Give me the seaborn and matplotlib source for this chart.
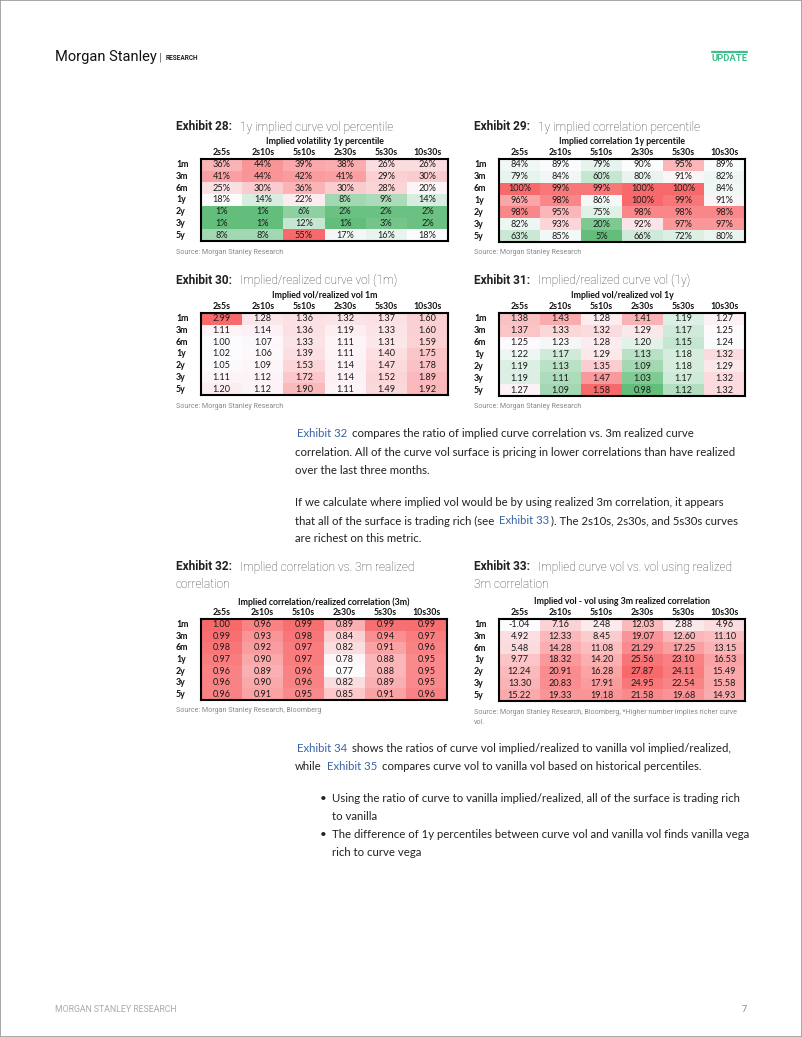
import numpy as np
import pandas as pd
import matplotlib
matplotlib.use("Agg")
import matplotlib.pyplot as plt
import seaborn as sns
from matplotlib.colors import LinearSegmentedColormap, TwoSlopeNorm, Normalize
from matplotlib.patches import Rectangle
from matplotlib.lines import Line2D

# ---------------- data ----------------
tenors = ["1m", "3m", "6m", "1y", "2y", "3y", "5y"]
curves = ["2s5s", "2s10s", "5s10s", "2s30s", "5s30s", "10s30s"]

ex28_vol_pct = [
    [36, 44, 39, 38, 26, 26],
    [41, 44, 42, 41, 29, 30],
    [25, 30, 36, 30, 28, 20],
    [18, 14, 22, 8, 9, 14],
    [1, 1, 6, 2, 2, 2],
    [1, 1, 12, 1, 3, 2],
    [8, 8, 55, 17, 16, 18],
]
ex29_corr_pct = [
    [84, 89, 79, 90, 95, 89],
    [79, 84, 60, 80, 91, 82],
    [100, 99, 99, 100, 100, 84],
    [96, 98, 86, 100, 99, 91],
    [98, 95, 75, 98, 98, 98],
    [82, 93, 20, 92, 97, 97],
    [63, 85, 5, 66, 72, 80],
]
ex30_ratio_1m = [
    [2.99, 1.28, 1.36, 1.32, 1.37, 1.60],
    [1.11, 1.14, 1.36, 1.19, 1.33, 1.60],
    [1.00, 1.07, 1.33, 1.11, 1.31, 1.59],
    [1.02, 1.06, 1.39, 1.11, 1.40, 1.75],
    [1.05, 1.09, 1.53, 1.14, 1.47, 1.78],
    [1.11, 1.12, 1.72, 1.14, 1.52, 1.89],
    [1.20, 1.12, 1.90, 1.11, 1.49, 1.92],
]
ex31_ratio_1y = [
    [1.38, 1.43, 1.28, 1.41, 1.19, 1.27],
    [1.37, 1.33, 1.32, 1.29, 1.17, 1.25],
    [1.25, 1.23, 1.28, 1.20, 1.15, 1.24],
    [1.22, 1.17, 1.29, 1.13, 1.18, 1.32],
    [1.19, 1.13, 1.35, 1.09, 1.18, 1.29],
    [1.19, 1.11, 1.47, 1.03, 1.17, 1.32],
    [1.27, 1.09, 1.58, 0.98, 1.12, 1.32],
]
ex32_corr_ratio = [
    [1.00, 0.96, 0.99, 0.89, 0.99, 0.99],
    [0.99, 0.93, 0.98, 0.84, 0.94, 0.97],
    [0.98, 0.92, 0.97, 0.82, 0.91, 0.96],
    [0.97, 0.90, 0.97, 0.78, 0.88, 0.95],
    [0.96, 0.89, 0.96, 0.77, 0.88, 0.95],
    [0.96, 0.90, 0.96, 0.82, 0.89, 0.95],
    [0.96, 0.91, 0.95, 0.85, 0.91, 0.96],
]
ex33_vol_diff = [
    [-1.04, 7.16, 2.48, 12.03, 2.88, 4.96],
    [4.92, 12.33, 8.45, 19.07, 12.60, 11.10],
    [5.48, 14.28, 11.08, 21.29, 17.25, 13.15],
    [9.77, 18.32, 14.20, 25.56, 23.10, 16.53],
    [12.24, 20.91, 16.28, 27.87, 24.11, 15.49],
    [13.30, 20.83, 17.91, 24.95, 22.54, 15.58],
    [15.22, 19.33, 19.18, 21.58, 19.68, 14.93],
]

# ---------------- figure ----------------
W, H = 802, 1037
sns.set_theme(style="white")
plt.rcParams["font.family"] = ["Lato", "DejaVu Sans"]
fig = plt.figure(figsize=(W / 100, H / 100), dpi=100)
fig.patch.set_facecolor("white")
renderer = fig.canvas.get_renderer()


def fx(x):
    return x / W


def fy(y):
    return 1 - y / H


def ax_at(x0, y0, x1, y1):
    return fig.add_axes([fx(x0), fy(y1), (x1 - x0) / W, (y1 - y0) / H])


GREEN, WHITE, RED = "#63BE7B", "#FCFCFF", "#F8696B"
cmap3 = LinearSegmentedColormap.from_list("gwr", [GREEN, WHITE, RED])
cmap2 = LinearSegmentedColormap.from_list("wr", [WHITE, RED])

TAB_FONT = "Lato"


def draw_table(values, box, header, fmt, three):
    df = pd.DataFrame(values, index=tenors, columns=curves)
    v = df.values.astype(float)
    if three:
        norm = TwoSlopeNorm(vcenter=float(np.median(v)), vmin=v.min(), vmax=v.max())
        cmap = cmap3
    else:
        norm = Normalize(v.min(), v.max())
        cmap = cmap2
    annot = np.array([[fmt.format(z) for z in row] for row in values])
    ax = ax_at(*box)
    sns.heatmap(df, ax=ax, cmap=cmap, norm=norm, annot=annot, fmt="", cbar=False,
                linewidths=0, xticklabels=curves, yticklabels=tenors,
                annot_kws=dict(fontsize=6.6, color="#1a1a1a", family=TAB_FONT))
    ax.xaxis.tick_top()
    ax.set_xlabel("")
    ax.set_ylabel("")
    for lab in ax.get_xticklabels():
        lab.set_fontsize(6.3)
        lab.set_fontweight("bold")
        lab.set_family(TAB_FONT)
        lab.set_color("#111111")
        lab.set_rotation(0)
    for lab in ax.get_yticklabels():
        lab.set_fontsize(6.3)
        lab.set_fontweight("bold")
        lab.set_family(TAB_FONT)
        lab.set_color("#111111")
        lab.set_rotation(0)
        lab.set_ha("left")
        lab.set_va("center")
    ax.tick_params(axis="x", length=0, pad=1.5)
    ax.tick_params(axis="y", length=0, pad=18)
    for s in ax.spines.values():
        s.set_visible(True)
        s.set_color("black")
        s.set_linewidth(1.5)
    x0, y0, x1, y1 = box
    fig.text(fx((x0 + x1) / 2), fy(y0 - 17), header, ha="center", va="center",
             fontsize=6.3, fontweight="bold", family=TAB_FONT, color="#111111")
    return ax


def title(x, y, num, lines):
    t = fig.text(fx(x), fy(y), f"Exhibit {num}:", ha="left", va="center",
                 fontsize=8.6, fontweight="bold", family="Roboto", color="#222222")
    w = t.get_window_extent(renderer).width
    for i, ln in enumerate(lines):
        xx = x + w + 8 if i == 0 else x
        fig.text(fx(xx), fy(y + 18 * i), ln, ha="left", va="center",
                 fontsize=8.6, fontweight="light", family="Roboto", color="#3a3a3a")


def source(x, y, txt):
    fig.text(fx(x), fy(y), txt, ha="left", va="center", fontsize=5.15,
             family="Roboto", color="#888888")


# Exhibit 28
title(176, 127, 28, ["1y implied curve vol percentile"])
draw_table(ex28_vol_pct, (201, 159, 448, 241), "Implied volatility 1y percentile", "{}%", True)
source(176, 253, "Source: Morgan Stanley Research")
# Exhibit 29
title(474, 127, 29, ["1y implied correlation percentile"])
draw_table(ex29_corr_pct, (499, 159, 745, 242), "Implied correlation 1y percentile", "{}%", True)
source(474, 253, "Source: Morgan Stanley Research")
# Exhibit 30
title(176, 280, 30, ["Implied/realized curve vol (1m)"])
draw_table(ex30_ratio_1m, (201, 313, 448, 395), "Implied vol/realized vol 1m", "{:.2f}", False)
source(176, 407, "Source: Morgan Stanley Research")
# Exhibit 31
title(474, 280, 31, ["Implied/realized curve vol (1y)"])
draw_table(ex31_ratio_1y, (499, 313, 745, 396), "Implied vol/realized vol 1y", "{:.2f}", True)
source(474, 407, "Source: Morgan Stanley Research")
# Exhibit 32
title(176, 567, 32, ["Implied correlation vs. 3m realized", "correlation"])
draw_table(ex32_corr_ratio, (201, 619, 447, 700), "Implied correlation/realized correlation (3m)", "{:.2f}", False)
source(176, 711, "Source: Morgan Stanley Research, Bloomberg")
# Exhibit 33
title(474, 567, 33, ["Implied curve vol vs. vol using realized", "3m correlation"])
draw_table(ex33_vol_diff, (499, 619, 745, 701), "Implied vol - vol using 3m realized correlation", "{:.2f}", False)
source(474, 712, "Source: Morgan Stanley Research, Bloomberg, *Higher number implies richer curve")
source(474, 722, "vol.")

# ---------------- body text ----------------
BODY_FONT = "Lato"
DARK, BLUE = "#222222", "#3A63A8"
probe = fig.text(0, 0, "correlation. All of the curve vol surface is pricing in lower correlations than have realized",
                 fontsize=10, family=BODY_FONT)
body_size = 10 * 442 / probe.get_window_extent(renderer).width
probe.remove()
sp = body_size * 100 / 72 * 0.25


def put(x, y, txt, col=DARK):
    t = fig.text(fx(x), fy(y), txt, ha="left", va="center", fontsize=body_size,
                 family=BODY_FONT, color=col)
    return x + t.get_window_extent(renderer).width


def seq(x, y, parts):
    for txt, col, gap in parts:
        x = put(x, y, txt, col) + gap * sp


seq(297, 434, [("Exhibit 32", BLUE, 1.6), ("compares the ratio of implied curve correlation vs. 3m realized curve", DARK, 0)])
put(295, 452, "correlation. All of the curve vol surface is pricing in lower correlations than have realized")
put(295, 470, "over the last three months.")
put(295, 503, "If we calculate where implied vol would be by using realized 3m correlation, it appears")
seq(295, 521, [("that all of the surface is trading rich (see", DARK, 1.6), ("Exhibit 33", BLUE, 0.8),
               ("). The 2s10s, 2s30s, and 5s30s curves", DARK, 0)])
put(295, 539, "are richest on this metric.")
seq(297, 748, [("Exhibit 34", BLUE, 1.6),
               ("shows the ratios of curve vol implied/realized to vanilla vol implied/realized,", DARK, 0)])
seq(295, 767, [("while", DARK, 2.0), ("Exhibit 35", BLUE, 1.6),
               ("compares curve vol to vanilla vol based on historical percentiles.", DARK, 0)])

for yy, txt, bullet in [
    (798, "Using the ratio of curve to vanilla implied/realized, all of the surface is trading rich", True),
    (817, "to vanilla", False),
    (835, "The difference of 1y percentiles between curve vol and vanilla vol finds vanilla vega", True),
    (853, "rich to curve vega", False),
]:
    if bullet:
        put(320, yy, "\u2022")
    put(332, yy, txt)

# ---------------- header / footer ----------------
fig.text(fx(55), fy(57), "Morgan Stanley", ha="left", va="center", fontsize=10.5,
         family="Roboto", color="#111111")
fig.text(fx(159), fy(57), "|", ha="left", va="center", fontsize=8, family="Roboto", color="#555555")
fig.text(fx(166), fy(57.5), "RESEARCH", ha="left", va="center", fontsize=4.7,
         fontweight="bold", family="Roboto", color="#222222")
fig.add_artist(Line2D([fx(712), fx(747)], [fy(52), fy(52)], color="#3DBE8B", lw=1.6))
fig.text(fx(712), fy(58.5), "UPDATE", ha="left", va="center", fontsize=6.8,
         fontweight="bold", family="Roboto", color="#3DBE8B")
fig.text(fx(55), fy(1009), "MORGAN STANLEY RESEARCH", ha="left", va="center", fontsize=6.3,
         family="Roboto", color="#AAAAAA")
fig.text(fx(742), fy(1009), "7", ha="left", va="center", fontsize=6.8,
         family="Roboto", color="#888888")

fig.add_artist(Rectangle((0, 0), 1, 1, transform=fig.transFigure, fill=False,
                         edgecolor="#9A9A9A", lw=1.2))

fig.savefig("out.png", dpi=100, facecolor="white")
